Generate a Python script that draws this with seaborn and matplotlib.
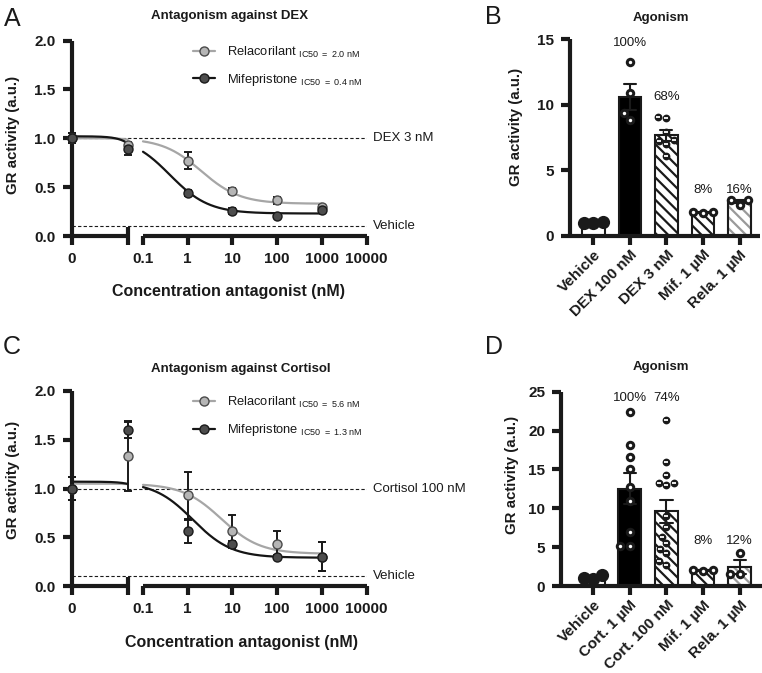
import numpy as np
import pandas as pd
import matplotlib
matplotlib.use("Agg")
import matplotlib.pyplot as plt
from matplotlib.lines import Line2D
from matplotlib.patches import Rectangle
from matplotlib.ticker import NullFormatter
import seaborn as sns

# ---------------- values ----------------
conc_nM = [0, 0.04, 1, 10, 100, 1000]   # 0 = no antagonist, 2nd dose sits on the axis break

# A: antagonism against DEX 3 nM (mean, SEM)
rela_dex = [1.00, 0.93, 0.77, 0.46, 0.365, 0.30]
rela_dex_sem = [0.05, 0.03, 0.085, 0.03, 0.035, 0.02]
mife_dex = [1.00, 0.89, 0.44, 0.26, 0.20, 0.27]
mife_dex_sem = [0.05, 0.06, 0.03, 0.03, 0.01, 0.03]

# C: antagonism against cortisol 100 nM
rela_cort = [1.00, 1.33, 0.93, 0.56, 0.43, 0.30]
rela_cort_sem = [0.12, 0.36, 0.24, 0.17, 0.13, 0.15]
mife_cort = [1.00, 1.60, 0.56, 0.43, 0.30, 0.30]
mife_cort_sem = [0.12, 0.08, 0.12, 0.03, 0.02, 0.15]

# fitted inhibition curves: top, bottom, IC50 (nM)
rela_dex_fit = [1.00, 0.33, 2.0]
mife_dex_fit = [1.02, 0.23, 0.4]
rela_cort_fit = [1.05, 0.33, 5.6]
mife_cort_fit = [1.07, 0.29, 1.3]

ref_levels = [1.0, 0.1]
ref_dex_labels = ["DEX 3 nM", "Vehicle"]
ref_cort_labels = ["Cortisol 100 nM", "Vehicle"]

log_ticks = [0.1, 1, 10, 100, 1000, 10000]
log_ticklabels = ["0.1", "1", "10", "100", "1000", "10000"]

# B: agonism, DEX
groups_dex = ["Vehicle", "DEX 100 nM", "DEX 3 nM", "Mif. 1 µM", "Rela. 1 µM"]
veh_b = [1.0, 1.06, 0.94]
dex100_b = [13.3, 10.9, 9.4, 8.8]
dex3_b = [9.0, 9.1, 7.9, 7.3, 7.2, 7.0, 6.1]
mif_b = [1.7, 1.8, 1.8]
rela_b = [2.75, 2.35, 2.75]
pct_dex = ["", "100%", "68%", "8%", "16%"]

# D: agonism, cortisol
groups_cort = ["Vehicle", "Cort. 1 µM", "Cort. 100 nM", "Mif. 1 µM", "Rela. 1 µM"]
veh_d = [1.0, 1.4, 0.9]
cort1_d = [22.4, 18.1, 16.6, 15.0, 12.8, 10.9, 6.9, 5.1, 5.1]
cort100_d = [21.3, 15.9, 14.3, 13.3, 13.3, 13.0, 9.0, 7.6, 6.3, 5.5, 4.8, 4.2, 3.2, 2.7]
mif_d = [2.1, 1.9, 2.1]
rela_d = [4.2, 1.5, 1.5]
pct_cort = ["", "100%", "74%", "8%", "12%"]

# ---------------- style ----------------
W, H = 762, 673
sns.set_theme(style="ticks")
plt.rcParams["font.family"] = ["Liberation Sans", "DejaVu Sans"]
plt.rcParams.update({
    "text.color": "k", "axes.edgecolor": "k", "axes.labelcolor": "k",
    "xtick.color": "k", "ytick.color": "k", "hatch.linewidth": 1.6,
})
SPINE_LW = 3.0
TICKS = dict(width=3.0, length=6.5, labelsize=11, pad=5)
RELA = dict(line="#a6a6a6", face="#b5b5b5", edge="#4a4a4a")
MIFE = dict(line="#151515", face="#4d4d4d", edge="#1a1a1a")
X_ZERO = 1e-4        # where the "0" dose is drawn on the left log segment
HATCH = "\\\\\\"
bar_face = ["white", "black", "white", "white", "white"]
bar_hatch = [None, None, HATCH, HATCH, HATCH]
hatch_color = ["k", "k", "k", "k", "#9a9a9a"]
point_style = ["solid", "ring", "half", "ring", "ring"]
layout_size = {"solid": 6.5, "ring": 6.8, "half": 5.6}   # swarm spacing (pt)
shown_size = {"solid": 9.5, "ring": 6.8, "half": 5.6}    # drawn marker (pt)

fig = plt.figure(figsize=(W / 100, H / 100), dpi=100)


def px_axes(x0, y0, x1, y1, **kw):
    return fig.add_axes([x0 / W, 1 - y1 / H, (x1 - x0) / W, (y1 - y0) / H], **kw)


def px_text(x, y, s, **kw):
    kw.setdefault("ha", "center")
    kw.setdefault("va", "center")
    return fig.text(x / W, 1 - y / H, s, **kw)


def inhibition(x, top, bottom, ic50):
    return bottom + (top - bottom) / (1 + x / ic50)


def bold_ticks(ax):
    plt.setp(ax.get_xticklabels() + ax.get_yticklabels(), fontweight="bold")


def antagonism(top, bottom, series, ref_labels):
    # dashed reference levels run across the axis break
    ov = px_axes(71.7, top, 366.7, bottom)
    ov.set_xlim(0, 1)
    ov.set_ylim(0, 2)
    ov.axis("off")
    ov.hlines(ref_levels, 0, 1, colors="k", linestyles=(0, (3, 2)), linewidth=0.8)
    for y, lab in zip(ref_levels, ref_labels):
        ov.text(1.02, y, lab, ha="left", va="center", fontsize=9.5)

    axl = px_axes(71.7, top, 127.7, bottom, facecolor="none")
    axr = px_axes(143, top, 366.7, bottom, facecolor="none")
    brk = conc_nM[1]
    axl.set_xscale("log")
    axl.set_xlim(X_ZERO, brk)
    axr.set_xscale("log")
    axr.set_xlim(0.1, 10000)
    for ax in (axl, axr):
        ax.set_ylim(0, 2)

    x = np.array(conc_nM, dtype=float)
    x[x == 0] = X_ZERO
    on_left = x < 0.1
    xs_left = np.logspace(np.log10(X_ZERO), np.log10(brk), 150)
    xs_right = np.logspace(-1, 3, 300)

    for mean, sem, fit, col in series:
        for ax, xs in ((axl, xs_left), (axr, xs_right)):
            sns.lineplot(x=xs, y=inhibition(xs, *fit), ax=ax, color=col["line"],
                         linewidth=1.6, clip_on=False, zorder=2)
    for mean, sem, fit, col in series:
        mean, sem = np.array(mean), np.array(sem)
        for ax, m in ((axl, on_left), (axr, ~on_left)):
            ax.errorbar(x[m], mean[m], yerr=sem[m], fmt="none", ecolor="k",
                        elinewidth=1.4, capsize=3, capthick=1.4, clip_on=False, zorder=3)
    for mean, sem, fit, col in series:
        mean = np.array(mean)
        for ax, m in ((axl, on_left), (axr, ~on_left)):
            ax.plot(x[m], mean[m], "o", ms=6.5, mfc=col["face"], mec=col["edge"],
                    mew=1.0, clip_on=False, zorder=4)

    axl.set_xticks([X_ZERO], ["0"])
    axl.set_xticks([brk], minor=True)
    axr.set_xticks(log_ticks, log_ticklabels)
    axr.set_xticks([0.1], minor=True)
    for ax in (axl, axr):
        ax.xaxis.set_minor_formatter(NullFormatter())
        ax.tick_params(axis="x", which="major", **TICKS)
        ax.tick_params(axis="x", which="minor", direction="inout", length=13, width=3.0)
    axl.set_yticks([0, 0.5, 1.0, 1.5, 2.0])
    axl.tick_params(axis="y", **TICKS)
    axr.tick_params(axis="y", left=False, labelleft=False)
    sns.despine(ax=axl)
    sns.despine(ax=axr, left=True)
    for ax in (axl, axr):
        for sp in ax.spines.values():
            sp.set_linewidth(SPINE_LW)
            sp.set_capstyle("butt")
        bold_ticks(ax)

    names = ["Relacorilant", "Mifepristone"]
    handles, labels = [], []
    for name, (mean, sem, fit, col) in zip(names, series):
        handles.append(Line2D([], [], color=col["line"], lw=1.6, marker="o", ms=6.5,
                              mfc=col["face"], mec=col["edge"], mew=1.0))
        labels.append(name + r" $_{\mathregular{IC50\;=\;%.1f\ nM}}$" % fit[2])
    axr.legend(handles, labels, loc="upper left", bbox_to_anchor=(193 / W, 1 - (top + 4) / H),
               bbox_transform=fig.transFigure, frameon=False, fontsize=9.3,
               handlelength=1.7, handletextpad=0.9, labelspacing=0.95,
               borderpad=0, borderaxespad=0)


def agonism(box, groups, samples, pct, pct_y, xlim, ymax, ystep):
    ax = px_axes(*box)
    df = pd.DataFrame({"group": np.repeat(groups, [len(s) for s in samples]),
                       "activity": np.concatenate(samples)})
    sns.barplot(data=df, x="group", y="activity", order=groups, errorbar="se",
                capsize=0.33, width=0.62, color="white", saturation=1,
                edgecolor="k", linewidth=1.5,
                err_kws={"color": "k", "linewidth": 1.5}, ax=ax)
    for bar, face, hatch, hcol in zip(list(ax.patches), bar_face, bar_hatch, hatch_color):
        bar.set_facecolor(face)
        if hatch:
            bar.set_hatch(hatch)
            bar.set_edgecolor(hcol)
            if hcol != "k":
                ax.add_patch(Rectangle(bar.get_xy(), bar.get_width(), bar.get_height(),
                                       fill=False, ec="k", lw=1.5, zorder=bar.get_zorder()))
    points = []
    for g, vals, st in zip(groups, samples, point_style):
        n0 = len(ax.collections)
        sns.swarmplot(x=[g] * len(vals), y=vals, order=groups, color="k",
                      size=layout_size[st], linewidth=0, ax=ax, zorder=4)
        for coll in ax.collections[n0:]:
            if len(coll.get_offsets()):
                points.append((coll, st))
    for i, (p, y) in enumerate(zip(pct, pct_y)):
        if p:
            ax.text(i, y, p, ha="center", va="center", fontsize=9.5)

    ax.set_xlim(*xlim)
    ax.set_ylim(0, ymax)
    ax.set_yticks(np.arange(0, ymax + 0.1, ystep))
    ax.set_xticks(range(len(groups)))
    ax.set_xticklabels(groups, rotation=45, ha="right", va="top", rotation_mode="anchor",
                       fontsize=10.5)
    ax.set_xlabel("")
    ax.set_ylabel("")
    ax.tick_params(axis="both", **TICKS)
    ax.tick_params(axis="x", pad=2)
    sns.despine(ax=ax)
    for sp in ax.spines.values():
        sp.set_linewidth(SPINE_LW)
        sp.set_capstyle("butt")
    bold_ticks(ax)
    return ax, points


# ---------------- panels ----------------
antagonism(40.5, 236, [(rela_dex, rela_dex_sem, rela_dex_fit, RELA),
                        (mife_dex, mife_dex_sem, mife_dex_fit, MIFE)], ref_dex_labels)
antagonism(391, 586, [(rela_cort, rela_cort_sem, rela_cort_fit, RELA),
                       (mife_cort, mife_cort_sem, mife_cort_fit, MIFE)], ref_cort_labels)

axB, pts_b = agonism((570, 39.3, 760, 235.7), groups_dex,
                     [veh_b, dex100_b, dex3_b, mif_b, rela_b], pct_dex,
                     [0, 14.7, 10.6, 3.5, 3.5], (-0.64, 4.56), 15, 5)
axD, pts_d = agonism((561, 391.7, 761.7, 586), groups_cort,
                     [veh_d, cort1_d, cort100_d, mif_d, rela_d], pct_cort,
                     [0, 24.2, 24.2, 5.8, 5.8], (-0.88, 4.6), 25, 5)

# ---------------- titles / labels ----------------
px_text(4, 7, "A", ha="left", va="top", fontsize=18)
px_text(485, 5, "B", ha="left", va="top", fontsize=18)
px_text(3, 335, "C", ha="left", va="top", fontsize=18)
px_text(485, 335, "D", ha="left", va="top", fontsize=18)

px_text(230, 15.5, "Antagonism against DEX", fontsize=9.5, fontweight="bold")
px_text(241, 369, "Antagonism against Cortisol", fontsize=9.5, fontweight="bold")
px_text(660.5, 17.5, "Agonism", fontsize=9.5, fontweight="bold")
px_text(660.5, 367.5, "Agonism", fontsize=9.5, fontweight="bold")

px_text(229, 291.5, "Concentration antagonist (nM)", fontsize=11.5, fontweight="bold")
px_text(241.5, 643, "Concentration antagonist (nM)", fontsize=11.5, fontweight="bold")
for x, y in ((13, 135), (13, 480), (516, 127), (512, 475)):
    px_text(x, y, "GR activity (a.u.)", rotation=90, fontsize=10.8, fontweight="bold")

# swarm positions are settled at draw time; redraw the points at those spots
fig.canvas.draw()
for ax, pts in ((axB, pts_b), (axD, pts_d)):
    for coll, st in pts:
        xy = np.array(coll.get_offsets())
        coll.set_visible(False)
        ax.scatter(xy[:, 0], xy[:, 1], s=shown_size[st] ** 2, color="k",
                   linewidths=0, zorder=4, clip_on=False)
        if st == "ring":
            ax.scatter(xy[:, 0], xy[:, 1], s=6, color="white", linewidths=0, zorder=5)
        elif st == "half":
            ax.scatter(xy[:, 0], xy[:, 1], s=12, marker="_", color="white",
                       linewidths=1.3, zorder=5)

fig.savefig("out.png", dpi=100)
